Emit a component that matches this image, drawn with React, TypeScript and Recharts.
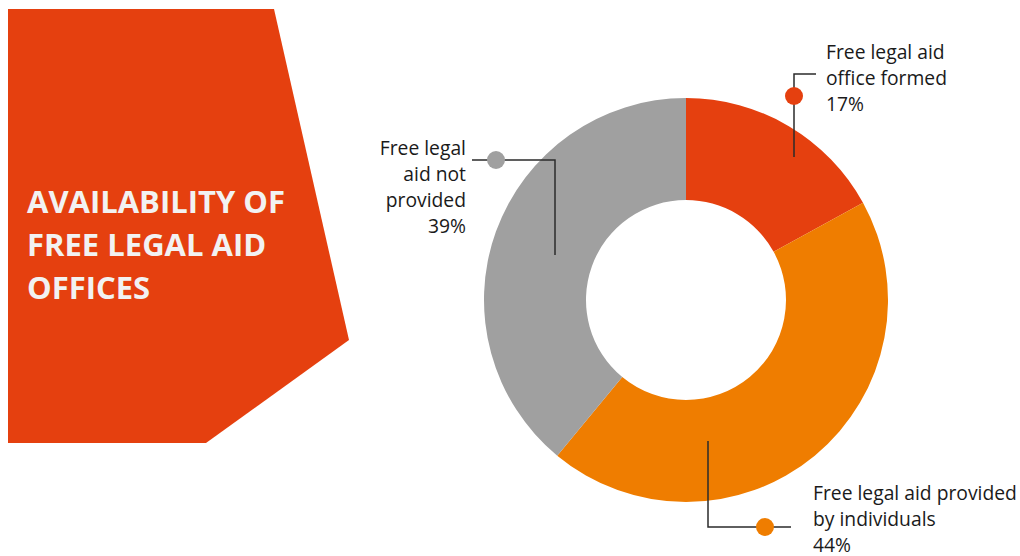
import React from "react";
import { PieChart, Pie, Cell } from "recharts";

const categories = [
  "Free legal aid office formed",
  "Free legal aid provided by individuals",
  "Free legal aid not provided",
];
const shares = [17, 44, 39];
const labelLines = [
  ["Free legal aid", "office formed", "17%"],
  ["Free legal aid provided", "by individuals", "44%"],
  ["Free legal", "aid not", "provided", "39%"],
];
const titleLines = ["AVAILABILITY OF", "FREE LEGAL AID", "OFFICES"];

const COLORS = ["#E5400F", "#EF7D00", "#A0A0A0"];
const FONT = "'Open Sans', 'Noto Sans', sans-serif";

const data = categories.map((name, i) => ({ name, value: shares[i] }));

// leader layout relative to pie center: [start(in slice), elbow, end], dot, text anchor
const leaderLayout = [
  { pts: [[108, -143], [108, -226], [130, -226]], dot: [108, -204], tx: 140, ty: -241, anchor: "start" },
  { pts: [[22, 141], [22, 227], [105, 227]], dot: [79, 227], tx: 127, ty: 200, anchor: "start" },
  { pts: [[-131, -45], [-131, -140], [-214, -140]], dot: [-190, -140], tx: -220, ty: -145, anchor: "end" },
];

const renderLabel = (props: any) => {
  const { cx, cy, index } = props;
  const L = leaderLayout[index];
  const pts = L.pts.map(([x, y]) => `${cx + x},${cy + y}`).join(" ");
  return (
    <g key={`lab-${index}`}>
      <polyline points={pts} fill="none" stroke="#2b2b2b" strokeWidth={1.5} />
      <circle cx={cx + L.dot[0]} cy={cy + L.dot[1]} r={9} fill={COLORS[index]} />
      <text
        x={cx + L.tx}
        y={cy + L.ty}
        textAnchor={L.anchor}
        fontFamily={FONT}
        fontSize={19.3}
        fill="#1a1a1a"
      >
        {labelLines[index].map((t, k) => (
          <tspan key={k} x={cx + L.tx} dy={k === 0 ? 0 : 26}>
            {t}
          </tspan>
        ))}
      </text>
    </g>
  );
};

export default function App() {
  return (
    <div style={{ position: "absolute", left: 0, top: 0, width: 1020, height: 556, background: "#fff" }}>
      <PieChart width={1020} height={556} margin={{ top: 0, right: 0, bottom: 0, left: 0 }}>
        <g>
          <polygon points="8,9 274,9 349,340 206,443 8,443" fill="#E5400F" />
          <text fontFamily={FONT} fontWeight={700} fontSize={31} fill="#F2F2F2">
            {titleLines.map((t, k) => (
              <tspan key={k} x={27} y={213 + k * 43}>
                {t}
              </tspan>
            ))}
          </text>
        </g>
        <Pie
          data={data}
          dataKey="value"
          nameKey="name"
          cx={686}
          cy={300}
          innerRadius={100}
          outerRadius={202}
          startAngle={90}
          endAngle={-270}
          stroke="none"
          isAnimationActive={false}
          label={renderLabel}
          labelLine={false}
        >
          {data.map((d, i) => (
            <Cell key={d.name} fill={COLORS[i]} />
          ))}
        </Pie>
      </PieChart>
    </div>
  );
}
